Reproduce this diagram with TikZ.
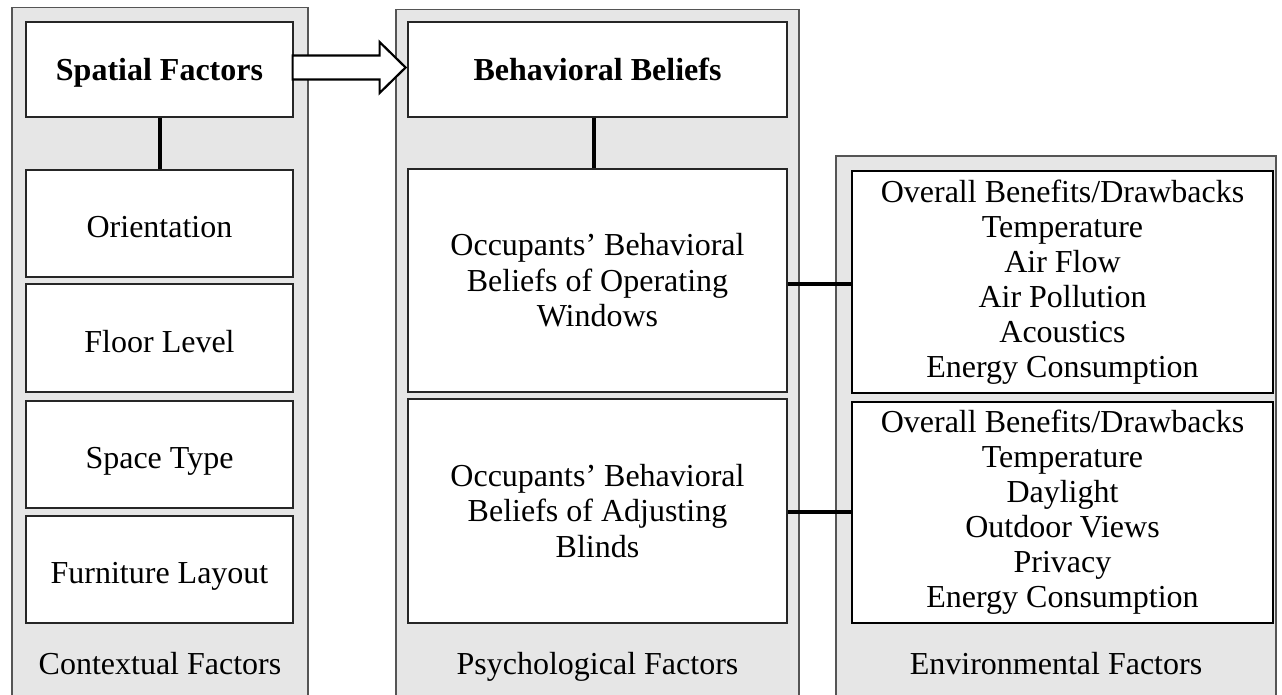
\documentclass[tikz,border=0pt]{standalone}
\usepackage{fontspec}
\setmainfont{Liberation Serif}
\usetikzlibrary{calc}
\definecolor{panelgray}{HTML}{E6E6E6}
\definecolor{panelborder}{HTML}{555555}
\begin{document}
\begin{tikzpicture}[x=1pt,y=-1pt,
  panel/.style={fill=panelgray,draw=panelborder,line width=1.6pt},
  txt/.style={font=\fontsize{32}{35.5}\selectfont,align=center},
  oneline/.style={text height=28pt,text depth=0pt},
  headline/.style={text height=23pt,text depth=0pt},
  inbox/.style={txt,draw=black!85,fill=white,line width=1.2pt,inner sep=0pt},
  envbox/.style={txt,draw=black,fill=white,line width=2.4pt,inner sep=0pt},
  link/.style={line width=4pt,black},
  bigarrow/.style={draw=black,fill=white,line width=2.2pt,line join=miter}]
\useasboundingbox (0,0) rectangle (1282,695);
\clip (0,0) rectangle (1282,695);
% panels
\fill[panelgray] (12,7.5) rectangle (308,710);
\draw[panel,fill=none] (12,710) -- (12,7.5) -- (308,7.5) -- (308,710);
\fill[panelgray] (396,9.5) rectangle (799,710);
\draw[panel,fill=none] (396,710) -- (396,9.5) -- (799,9.5) -- (799,710);
\fill[panelgray] (836,156) rectangle (1276,710);
\draw[panel,fill=none] (836,710) -- (836,156) -- (1276,156) -- (1276,710);
% contextual
\node[inbox,headline,minimum width=267,minimum height=95] (sp) at (159.5,69.5) {\bfseries Spatial Factors};
\node[inbox,oneline,minimum width=267,minimum height=107] (or) at (159.5,223.5) {Orientation};
\node[inbox,oneline,minimum width=267,minimum height=108] (fl) at (159.5,338) {Floor Level};
\node[inbox,oneline,minimum width=267,minimum height=107] (st) at (159.5,454.5) {Space Type};
\node[inbox,oneline,minimum width=267,minimum height=107] (fu) at (159.5,569.5) {Furniture Layout};
\node[txt,anchor=base] (cf) at (160,674) {Contextual Factors};
% psychological
\node[inbox,headline,minimum width=379,minimum height=95] (bb) at (597.5,69.5) {\bfseries Behavioral Beliefs};
\node[inbox,minimum width=379,minimum height=223] (ow) at (597.5,280.5) {Occupants’ Behavioral\\Beliefs of Operating\\Windows};
\node[inbox,minimum width=379,minimum height=224] (ab) at (597.5,511) {Occupants’ Behavioral\\Beliefs of Adjusting\\Blinds};
\node[txt,anchor=base] (pf) at (597.5,674) {Psychological Factors};
% environmental
\node[envbox,font=\fontsize{32}{35}\selectfont,minimum width=421,minimum height=222] (e1) at (1062.5,282) {Overall Benefits/Drawbacks\\Temperature\\Air Flow\\Air Pollution\\Acoustics\\Energy Consumption};
\node[envbox,font=\fontsize{32}{35}\selectfont,minimum width=421,minimum height=221] (e2) at (1062.5,512.5) {Overall Benefits/Drawbacks\\Temperature\\Daylight\\Outdoor Views\\Privacy\\Energy Consumption};
\node[txt,anchor=base] (ef) at (1056,674) {Environmental Factors};
% connectors
\draw[link] (sp.south) -- (or.north);
\draw[link] ($(bb.south)+(-4,0)$) -- ($(ow.north)+(-4,0)$);
\coordinate (c1) at ($(e1.west)+(0,2)$);
\draw[link] (c1) -- (c1 -| ow.east);
\coordinate (c2) at ($(e2.west)+(0,-1)$);
\draw[link] (c2) -- (c2 -| ab.east);
% arrow
\coordinate (ar) at ($(sp.east)+(-1,-2)$);
\draw[bigarrow] ($(ar)+(0,-12)$) -- ($(ar)+(87,-12)$) -- ($(ar)+(87,-25.5)$) -- ($(ar)+(113,0)$) -- ($(ar)+(87,25.5)$) -- ($(ar)+(87,12)$) -- ($(ar)+(0,12)$) -- cycle;
\end{tikzpicture}
\end{document}
